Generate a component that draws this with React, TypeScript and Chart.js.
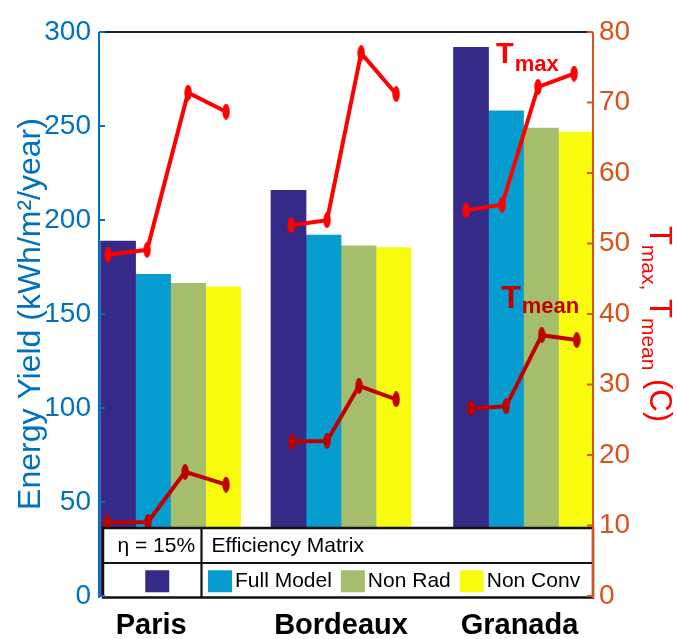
import React, { useEffect, useRef } from "react";
import { Chart, registerables } from "chart.js";

Chart.register(...registerables);

// ---------- data ----------
const cities = ["Paris", "Bordeaux", "Granada"];
const cityX = [1.0, 1.974, 3.017];
const cityLabelX = [0.889, 1.974, 2.994];
const xRange = [0.591, 3.414];
const seriesLabels = ["η = 15%", "Full Model", "Non Rad", "Non Conv"];
const eta15 = [188.8, 215.8, 291.8];
const fullModel = [171.1, 192.0, 258.1];
const nonRad = [166.3, 186.2, 248.9];
const nonConv = [164.5, 185.3, 246.8];
const tmaxX = [0.643, 0.866, 1.1, 1.317, 1.689, 1.894, 2.089, 2.289, 2.689, 2.894, 3.1, 3.306];
const tmax = [48.4, 49.1, 71.4, 68.7, 52.6, 53.3, 77.0, 71.2, 54.7, 55.5, 72.2, 74.1];
const tmeanX = [0.637, 0.871, 1.083, 1.317, 1.694, 1.894, 2.077, 2.289, 2.717, 2.917, 3.121, 3.321];
const tmean = [10.4, 10.5, 17.6, 15.8, 21.9, 22.0, 29.8, 27.9, 26.6, 26.9, 37.0, 36.3];
const energyRange = [0, 300];
const energyStep = 50;
const tempRange = [0, 80];
const tempStep = 10;
const tmaxLabelPos = { x: 2.86, y: 75.6 };
const tmeanLabelPos = { x: 2.889, y: 40.85 };

// ---------- styles ----------
const FONT = '"Liberation Sans", Arial, Helvetica, sans-serif';
const BLUE_AXIS = "#0072BD";
const ORANGE_AXIS = "#D95319";
const barColors = ["#352A87", "#079CCF", "#A5BE6B", "#F9FB0E"];
const TMAX_COLOR = "#FF0000";
const TMEAN_COLOR = "#C00000";

function ellipseMarker(color: string) {
  const c = document.createElement("canvas");
  c.width = 8;
  c.height = 16;
  const g = c.getContext("2d")!;
  g.fillStyle = color;
  g.beginPath();
  g.ellipse(4, 8, 3.7, 7.9, 0, 0, Math.PI * 2);
  g.fill();
  return c;
}

function withGaps(xs: number[], ys: number[]) {
  const out: { x: number; y: number | null }[] = [];
  ys.forEach((y, i) => {
    out.push({ x: xs[i], y });
    if (i % 4 === 3 && i < ys.length - 1) out.push({ x: (xs[i] + xs[i + 1]) / 2, y: null });
  });
  return out;
}

const decorPlugin = {
  id: "decor",
  afterDatasetsDraw(chart: any) {
    const { ctx, chartArea: a, scales } = chart;
    ctx.save();
    // ---- table legend ----
    const top = a.bottom - 68;
    const mid = a.bottom - 33;
    const bot = a.bottom + 1.5;
    const left = a.left + 4;
    const right = a.right;
    const div = a.left + 102.5;
    ctx.fillStyle = "#ffffff";
    ctx.fillRect(left, top, right - left, bot - top);
    ctx.strokeStyle = "#111";
    ctx.lineWidth = 2.5;
    ctx.strokeRect(left, top, right - left, bot - top);
    ctx.lineWidth = 2.2;
    ctx.beginPath();
    ctx.moveTo(left, mid);
    ctx.lineTo(right, mid);
    ctx.moveTo(div, top);
    ctx.lineTo(div, bot);
    ctx.stroke();

    ctx.font = `21px ${FONT}`;
    ctx.fillStyle = "#000";
    ctx.textBaseline = "middle";
    const r1 = (top + mid) / 2 + 1;
    const r2 = (mid + bot) / 2 + 1;
    ctx.textAlign = "center";
    ctx.fillText(seriesLabels[0], (left + div) / 2 + 4, r1);
    ctx.textAlign = "left";
    ctx.fillText("Efficiency Matrix", div + 10, r1);
    const sw = 24, sh = 22;
    ctx.fillStyle = barColors[0];
    ctx.fillRect((left + div) / 2 + 5 - sw / 2, r2 - sh / 2, sw, sh);
    let x = div + 6.5;
    for (let i = 1; i < 4; i++) {
      ctx.fillStyle = barColors[i];
      ctx.fillRect(x, r2 - sh / 2, sw, sh);
      x += sw + 3;
      ctx.fillStyle = "#000";
      ctx.fillText(seriesLabels[i], x, r2);
      x += ctx.measureText(seriesLabels[i]).width + 9;
    }

    // ---- axes frame ----
    ctx.lineWidth = 2;
    ctx.strokeStyle = "#222";
    ctx.beginPath();
    ctx.moveTo(a.left, a.top);
    ctx.lineTo(a.right, a.top);
    ctx.stroke();
    ctx.strokeStyle = BLUE_AXIS;
    ctx.beginPath();
    ctx.moveTo(a.left, a.top);
    ctx.lineTo(a.left, a.bottom + 2);
    scales.y.ticks.forEach((_t: any, i: number) => {
      const py = scales.y.getPixelForTick(i);
      ctx.moveTo(a.left, py);
      ctx.lineTo(a.left + 6, py);
    });
    ctx.stroke();
    ctx.strokeStyle = ORANGE_AXIS;
    ctx.beginPath();
    ctx.moveTo(a.right, a.top);
    ctx.lineTo(a.right, a.bottom + 2);
    scales.y1.ticks.forEach((_t: any, i: number) => {
      const py = scales.y1.getPixelForTick(i);
      ctx.moveTo(a.right, py);
      ctx.lineTo(a.right - 6, py);
    });
    ctx.stroke();
    ctx.restore();
  },
  afterDraw(chart: any) {
    const { ctx, chartArea: a, scales } = chart;
    ctx.save();
    // ---- annotations ----
    const drawSub = (main: string, sub: string, pos: { x: number; y: number }, color: string, mainSize: number, subSize: number, drop: number) => {
      const px = scales.x.getPixelForValue(pos.x);
      const py = scales.y1.getPixelForValue(pos.y);
      ctx.fillStyle = color;
      ctx.textAlign = "left";
      ctx.textBaseline = "alphabetic";
      ctx.font = `bold ${mainSize}px ${FONT}`;
      ctx.fillText(main, px, py);
      const w = ctx.measureText(main).width;
      ctx.font = `bold ${subSize}px ${FONT}`;
      ctx.fillText(sub, px + w + 1, py + drop);
    };
    drawSub("T", "max", tmaxLabelPos, TMAX_COLOR, 29, 22, 8);
    drawSub("T", "mean", tmeanLabelPos, TMEAN_COLOR, 32, 22, 5);

    // ---- right axis title with subscripts ----
    const parts: [string, boolean][] = [
      ["T", false], ["max,", true], [" T", false], ["mean", true], [" (C)", false],
    ];
    const M = 31, S = 21;
    let total = 0;
    parts.forEach(([t, sub]) => {
      ctx.font = `${sub ? S : M}px ${FONT}`;
      total += ctx.measureText(t).width;
    });
    const cy = (a.top + a.bottom) / 2 + 10;
    ctx.translate(a.right + 57, cy - total / 2);
    ctx.rotate(Math.PI / 2);
    ctx.fillStyle = "#FF0000";
    ctx.textAlign = "left";
    ctx.textBaseline = "alphabetic";
    let off = 0;
    parts.forEach(([t, sub]) => {
      ctx.font = `${sub ? S : M}px ${FONT}`;
      ctx.fillText(t, off, sub ? 8 : 0);
      off += ctx.measureText(t).width;
    });
    ctx.restore();
  },
};

export default function App() {
  const ref = useRef<HTMLCanvasElement | null>(null);
  useEffect(() => {
    document.body.style.margin = "0";
    Chart.defaults.font.family = FONT;
    const canvas = ref.current!;
    const barSeries = [eta15, fullModel, nonRad, nonConv];
    const chart = new Chart(canvas, {
      type: "bar",
      data: {
        datasets: [
          {
            type: "line",
            label: "Tmax",
            data: withGaps(tmaxX, tmax),
            yAxisID: "y1",
            xAxisID: "x",
            borderColor: TMAX_COLOR,
            borderWidth: 4,
            pointStyle: ellipseMarker(TMAX_COLOR),
            pointRadius: 5,
            tension: 0,
            spanGaps: false,
            order: 0,
          } as any,
          {
            type: "line",
            label: "Tmean",
            data: withGaps(tmeanX, tmean),
            yAxisID: "y1",
            xAxisID: "x",
            borderColor: TMEAN_COLOR,
            borderWidth: 4,
            pointStyle: ellipseMarker(TMEAN_COLOR),
            pointRadius: 5,
            tension: 0,
            spanGaps: false,
            order: 0,
          } as any,
          ...barSeries.map((vals, k) => ({
            type: "bar",
            label: seriesLabels[k],
            data: vals.map((v, i) => ({ x: cityX[i], y: v })),
            backgroundColor: barColors[k],
            borderWidth: 0,
            barThickness: 35,
            grouped: true,
            yAxisID: "y",
            xAxisID: "x",
            order: 1,
          })) as any,
        ],
      },
      options: {
        animation: false,
        responsive: false,
        devicePixelRatio: 1,
        layout: { padding: { top: 32, left: 0, right: 0, bottom: 0 } },
        plugins: { legend: { display: false }, tooltip: { enabled: false } },
        scales: {
          x: {
            type: "linear",
            min: xRange[0],
            max: xRange[1],
            offset: false,
            grid: { display: false, drawTicks: false },
            border: { display: false },
            afterBuildTicks: (s: any) => {
              s.ticks = cityLabelX.map((v) => ({ value: v }));
            },
            afterFit: (s: any) => {
              s.height = 43;
            },
            ticks: {
              autoSkip: false,
              maxRotation: 0,
              padding: 13,
              color: "#000",
              font: { size: 29, weight: "bold" },
              callback: (_v: any, i: number) => cities[i],
            },
          } as any,
          y: {
            type: "linear",
            position: "left",
            min: energyRange[0],
            max: energyRange[1],
            grid: { drawOnChartArea: false, drawTicks: false },
            border: { display: false },
            ticks: { stepSize: energyStep, color: BLUE_AXIS, font: { size: 28 }, padding: 8 },
            title: {
              display: true,
              text: "Energy Yield (kWh/m²/year)",
              color: BLUE_AXIS,
              font: { size: 32 },
              padding: { top: 12, bottom: 0 },
            },
            afterFit: (s: any) => {
              s.width = 99;
            },
          } as any,
          y1: {
            type: "linear",
            position: "right",
            min: tempRange[0],
            max: tempRange[1],
            grid: { drawOnChartArea: false, drawTicks: false },
            border: { display: false },
            ticks: { stepSize: tempStep, color: ORANGE_AXIS, font: { size: 28 }, padding: 6 },
            afterFit: (s: any) => {
              s.width = 84;
            },
          } as any,
        },
      },
      plugins: [decorPlugin as any],
    });
    return () => chart.destroy();
  }, []);
  return <canvas ref={ref} width={677} height={639} style={{ display: "block" }} />;
}
